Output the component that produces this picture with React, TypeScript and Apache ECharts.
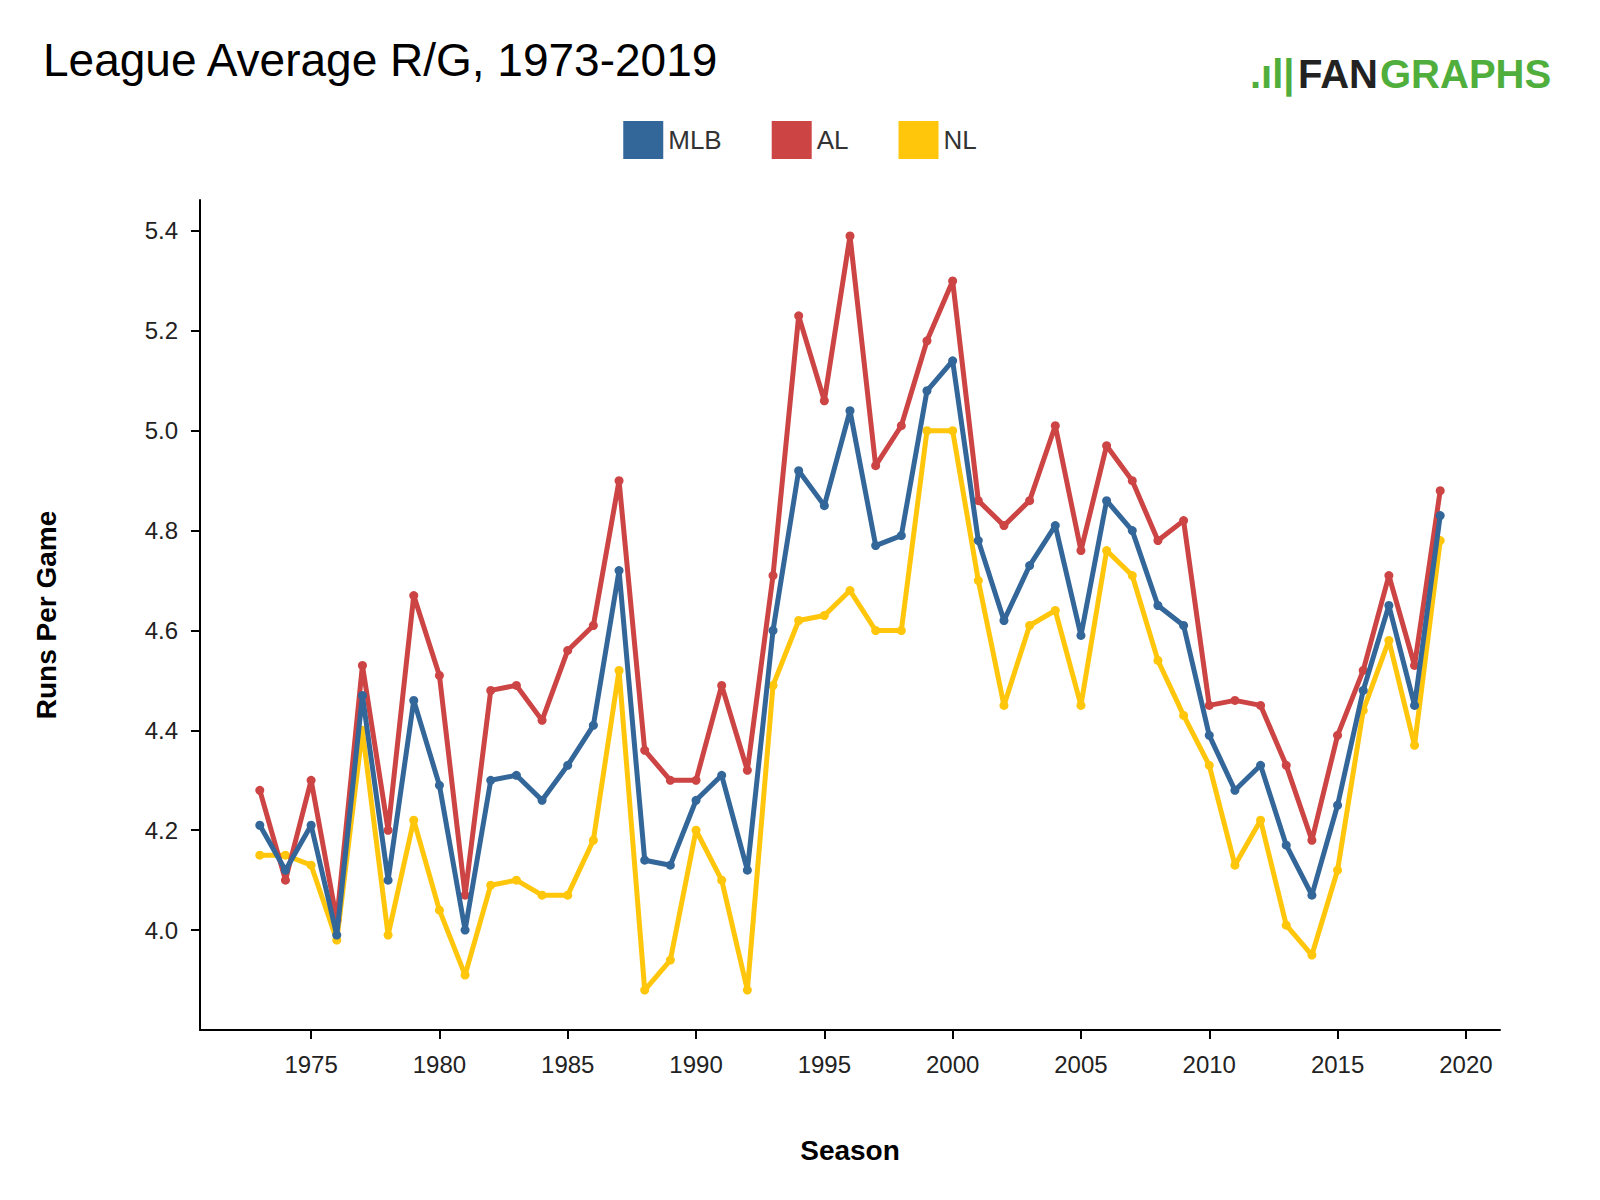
import * as echarts from "echarts";
import { useEffect, useRef } from "react";

const years = Array.from({ length: 47 }, (_, i) => 1973 + i);
const mlb = [4.21, 4.12, 4.21, 3.99, 4.47, 4.1, 4.46, 4.29, 4.0, 4.3, 4.31, 4.26, 4.33, 4.41, 4.72, 4.14, 4.13, 4.26, 4.31, 4.12, 4.6, 4.92, 4.85, 5.04, 4.77, 4.79, 5.08, 5.14, 4.78, 4.62, 4.73, 4.81, 4.59, 4.86, 4.8, 4.65, 4.61, 4.39, 4.28, 4.33, 4.17, 4.07, 4.25, 4.48, 4.65, 4.45, 4.83];
const al = [4.28, 4.1, 4.3, 4.02, 4.53, 4.2, 4.67, 4.51, 4.07, 4.48, 4.49, 4.42, 4.56, 4.61, 4.9, 4.36, 4.3, 4.3, 4.49, 4.32, 4.71, 5.23, 5.06, 5.39, 4.93, 5.01, 5.18, 5.3, 4.86, 4.81, 4.86, 5.01, 4.76, 4.97, 4.9, 4.78, 4.82, 4.45, 4.46, 4.45, 4.33, 4.18, 4.39, 4.52, 4.71, 4.53, 4.88];
const nl = [4.15, 4.15, 4.13, 3.98, 4.4, 3.99, 4.22, 4.04, 3.91, 4.09, 4.1, 4.07, 4.07, 4.18, 4.52, 3.88, 3.94, 4.2, 4.1, 3.88, 4.49, 4.62, 4.63, 4.68, 4.6, 4.6, 5.0, 5.0, 4.7, 4.45, 4.61, 4.64, 4.45, 4.76, 4.71, 4.54, 4.43, 4.33, 4.13, 4.22, 4.01, 3.95, 4.12, 4.44, 4.58, 4.37, 4.78];
const xTicks = [1975, 1980, 1985, 1990, 1995, 2000, 2005, 2010, 2015, 2020];
const yTicks = [4.0, 4.2, 4.4, 4.6, 4.8, 5.0, 5.2, 5.4];

const names = ["MLB", "AL", "NL"];
const colors = ["#336699", "#cc4444", "#ffc60b"];
const seriesData = [mlb, al, nl];

export default function App() {
  const ref = useRef<HTMLDivElement>(null);
  useEffect(() => {
    document.body.style.margin = "0";
    const chart = echarts.init(ref.current, null, { renderer: "svg" });
    const font = "Liberation Sans, Arial, sans-serif";
    chart.setOption({
      animation: false,
      textStyle: { fontFamily: font },
      title: {
        text: "League Average R/G, 1973-2019",
        left: 38,
        top: 32,
        textStyle: { fontSize: 46, fontWeight: "normal", color: "#000", fontFamily: font },
      },
      legend: {
        top: 116,
        left: "center",
        itemWidth: 40,
        itemHeight: 38,
        itemGap: 50,
        icon: "rect",
        textStyle: { fontSize: 26, color: "#333", fontFamily: font },
        data: names,
      },
      graphic: [
        {
          type: "text",
          left: 1250,
          top: 54,
          style: { text: ".ıl|", fontSize: 40, fontWeight: "bold", fill: "#50ae3c", fontFamily: font },
        },
        {
          type: "text",
          left: 1298,
          top: 54,
          style: { text: "FAN", fontSize: 40, fontWeight: "bold", fill: "#222", fontFamily: font },
        },
        {
          type: "text",
          left: 1380,
          top: 54,
          style: { text: "GRAPHS", fontSize: 40, fontWeight: "bold", fill: "#50ae3c", fontFamily: font },
        },
      ],
      grid: { left: 200, right: 100, top: 200, bottom: 170 },
      xAxis: {
        type: "value",
        min: 1970.67,
        max: 2021.33,
        name: "Season",
        nameLocation: "middle",
        nameGap: 106,
        nameTextStyle: { fontSize: 28, fontWeight: "bold", color: "#000" },
        axisLine: { lineStyle: { color: "#000", width: 2 } },
        axisTick: { customValues: xTicks, length: 9, lineStyle: { color: "#000", width: 2 } },
        axisLabel: { customValues: xTicks, fontSize: 24, color: "#222", margin: 22, formatter: (v: number) => String(v) },
        splitLine: { show: false },
      },
      yAxis: {
        type: "value",
        min: 3.8,
        max: 5.462,
        name: "Runs Per Game",
        nameLocation: "middle",
        nameGap: 140,
        nameTextStyle: { fontSize: 28, fontWeight: "bold", color: "#000" },
        axisLine: { show: true, lineStyle: { color: "#000", width: 2 } },
        axisTick: { show: true, customValues: yTicks, length: 9, lineStyle: { color: "#000", width: 2 } },
        axisLabel: { customValues: yTicks, fontSize: 24, color: "#222", margin: 22, formatter: (v: number) => v.toFixed(1) },
        splitLine: { show: false },
      },
      series: names.map((n, i) => ({
        name: n,
        type: "line",
        color: colors[i],
        data: years.map((y, j) => [y, seriesData[i][j]]),
        symbol: "circle",
        symbolSize: 9,
        lineStyle: { width: 5 },
        z: [3, 2, 1][i],
      })),
    });
    return () => chart.dispose();
  }, []);
  return <div ref={ref} style={{ width: 1600, height: 1200 }} />;
}
